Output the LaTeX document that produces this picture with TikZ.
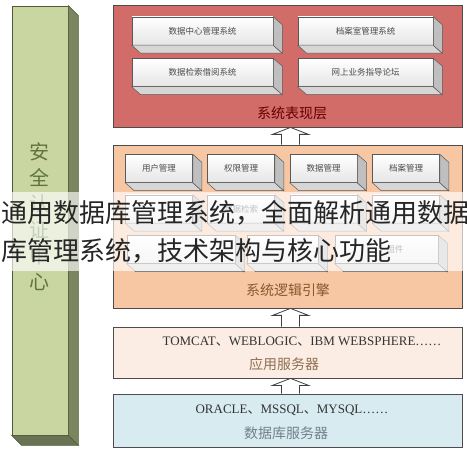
\documentclass[tikz,border=0pt]{standalone}
\usepackage{fontspec}
\usepackage{xcolor}
\setmainfont{Liberation Serif}
\newfontfamily\cjk{Noto Sans CJK SC}
\usetikzlibrary{calc}
\definecolor{redlayer}{HTML}{D26C68}
\definecolor{orangelayer}{HTML}{F7C7A3}
\definecolor{applayer}{HTML}{FCEDE4}
\definecolor{dblayer}{HTML}{D8EBF1}
\definecolor{secfront}{HTML}{CAD6A2}
\definecolor{secside}{HTML}{7B8661}
\definecolor{secline}{HTML}{4F5C35}
\definecolor{sectext}{HTML}{5E7440}

\begin{document}
\begin{tikzpicture}[x=1pt,y=-1pt,
	layer/.style={draw=black!70,line width=0.8pt,inner sep=0pt},
	front/.style={draw=black!65,line width=0.5pt,top color=white,bottom color=black!10,
		minimum height=28,inner sep=0pt,text=black!70,font=\cjk\fontsize{8.5}{10}\selectfont},
	hollow/.style={draw=black!75,fill=white,line width=0.8pt},
	lbl/.style={font=\cjk\fontsize{14}{14}\selectfont,inner sep=0pt},
	latin/.style={font=\fontsize{13}{13}\selectfont,text=black!80,inner sep=0pt},
	overlaytxt/.style={font=\cjk\fontsize{26}{26}\selectfont,text=black!85,inner sep=1pt,anchor=west}]
	\clip (0,0) rectangle (467,452);
	\fill[white] (0,0) rectangle (467,452);
	% Cột bên trái
	\node[draw=secline,fill=secfront,line width=0.8pt,minimum width=56,minimum height=429,inner sep=0pt] (sec) at (40,220.5) {};
	\draw[draw=secline,fill=secside,line width=0.6pt] (sec.north east) -- ++(10,10) -- ($(sec.south east)+(10,10)$) -- (sec.south east) -- cycle;
	\draw[draw=secline,fill=secside!85!black,line width=0.6pt] (sec.south west) -- (sec.south east) -- ++(10,10) -- ($(sec.south west)+(10,10)$) -- cycle;
	\node[align=center,text=sectext,font=\cjk\fontsize{20}{26}\selectfont] (sectxt) at (40,217) {安\\全\\认\\证\\中\\心};
	% Các tầng
	\node[layer,fill=redlayer,minimum width=349,minimum height=122] (red) at (287.5,66) {};
	\node[layer,fill=orangelayer,minimum width=349,minimum height=163] (orange) at (287.5,226.5) {};
	\node[layer,fill=applayer,minimum width=349,minimum height=51] (app) at (287.5,352.5) {};
	\node[layer,fill=dblayer,minimum width=349,minimum height=53] (db) at (287.5,420.5) {};
	% Các hộp
	\foreach \nm/\cx/\cy/\w/\txt in {
		ra/202.5/31/141/数据中心管理系统, rb/365.5/31/135/档案室管理系统,
		rc/202.5/72.5/141/数据检索借阅系统, rd/365.5/72.5/135/网上业务指导论坛,
		oa/159/168.5/67/用户管理, ob/241/168.5/67/权限管理,
		oc/323.5/168.5/67/数据管理, od/406/168.5/67/档案管理,
		pa/159/209/67/{}, pb/241/209/67/数据检索,
		pc/323.5/209/67/{}, pd/406/209/67/{},
		qa/181/249.5/108/{}, qb/282.5/249.5/71/{},
		qc/386.5/249.5/103/\phantom{组件}组件}{
		\node[front,minimum width=\w] (\nm) at (\cx,\cy) {\txt};
		\draw[draw=black!65,fill=black!16,line width=0.5pt] (\nm.south west) -- (\nm.south east) -- ++(9,8) -- ($(\nm.south west)+(9,8)$) -- cycle;
		\draw[draw=black!65,fill=black!25,line width=0.5pt] (\nm.north east) -- ++(9,8) -- ($(\nm.south east)+(9,8)$) -- (\nm.south east) -- cycle;
	}
	% Chữ
	\node[lbl,text=red!40!black] (redlbl) at (292,113) {系统表现层};
	\node[lbl,text=brown!70!black] (orangelbl) at (288,290) {系统逻辑引擎};
	\node[latin] (applatin) at (302,342) {TOMCAT{\cjk 、}WEBLOGIC{\cjk 、}IBM WEBSPHERE……};
	\node[lbl,text=brown!60!black!80] (applbl) at (284,364) {应用服务器};
	\node[latin] (dblatin) at (292,410) {ORACLE{\cjk 、}MSSQL{\cjk 、}MYSQL……};
	\node[lbl,text=cyan!25!black!70] (dblbl) at (286,433) {数据库服务器};
	% Mũi tên
	\foreach \lo/\hi in {orange/red,app/orange,db/app}
	\draw[hollow] ($(\lo.north)+(-6,0)$) -- ($(\hi.south)+(-6,7)$) -- ($(\hi.south)+(-15,7)$) -- ($(\hi.south)+(3,0)$)
		-- ($(\hi.south)+(21,7)$) -- ($(\hi.south)+(12,7)$) -- ($(\lo.north)+(12,0)$);
	% Dải chữ phủ
	\fill[white,opacity=0.65] (0,192) rectangle (467,271);
	\node[overlaytxt] (title1) at (0,213) {通用数据库管理系统，全面解析通用数据};
	\node[overlaytxt] (title2) at (0,251) {库管理系统，技术架构与核心功能};
\end{tikzpicture}
\end{document}
